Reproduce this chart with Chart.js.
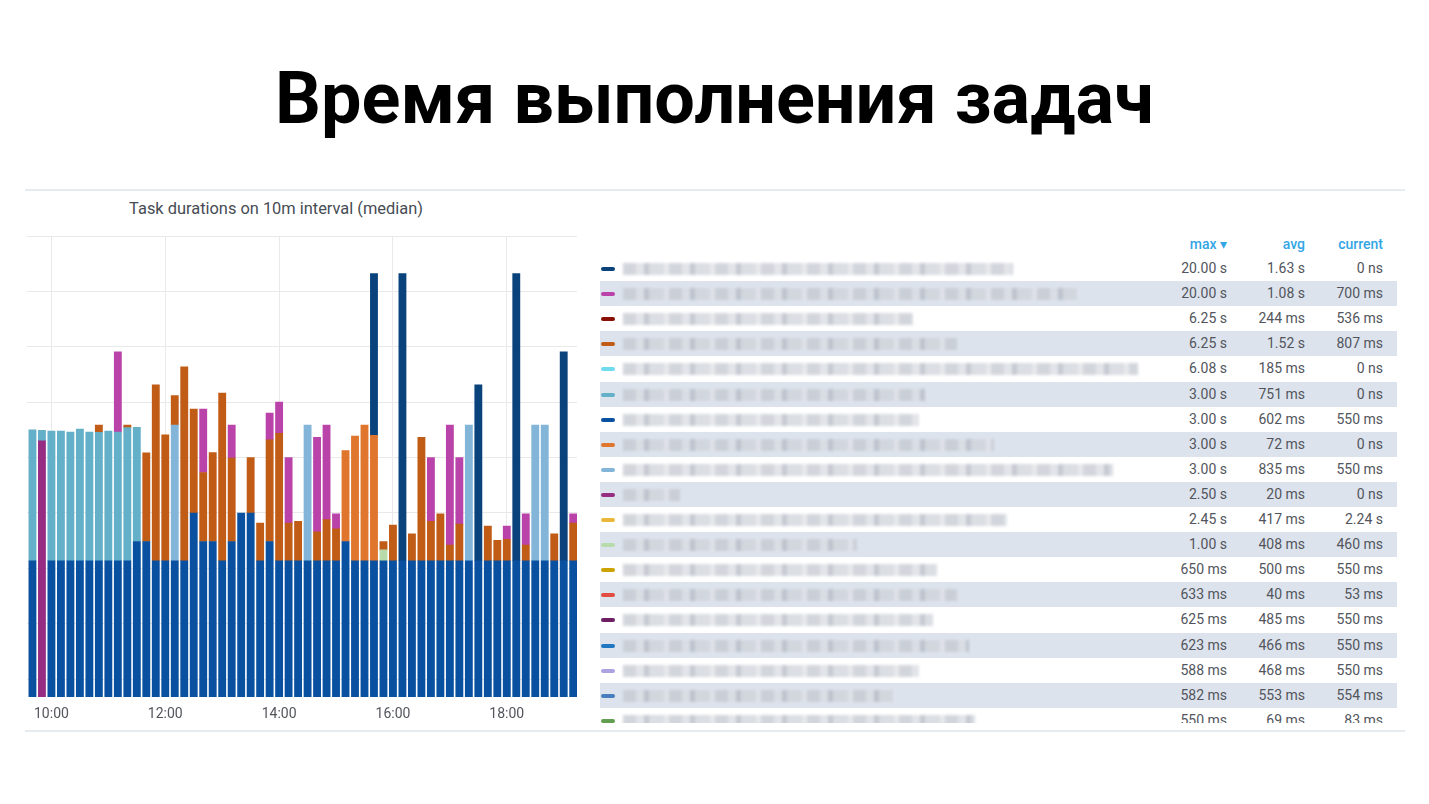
<!DOCTYPE html>
<html>
<head>
<meta charset="utf-8">
<title>Время выполнения задач</title>
<script src="https://cdn.jsdelivr.net/npm/chart.js@4.4.1/dist/chart.umd.min.js"></script>
<style>
  body { margin: 0; width: 1429px; height: 804px; background: #fff; font-family: Roboto, sans-serif; position: relative; overflow: hidden; }
  #title { position: absolute; left: 0; top: 54px; width: 1429px; text-align: center; font-size: 72px; line-height: 90px; font-weight: 700; color: #000; }
  .hline { position: absolute; left: 25px; width: 1380px; height: 2px; background: #e6ebf0; }
  #panelTitle { position: absolute; left: 25px; top: 199px; width: 502px; text-align: center; font-size: 16.4px; line-height: 20px; color: #464c54; }
  #chartBox { position: absolute; left: 25px; top: 236px; width: 552px; height: 497px; }
  #legend { position: absolute; left: 600px; top: 231px; width: 797px; height: 492px; overflow: hidden; font-size: 14px; color: #52555c; }
  .head, .row { position: relative; height: 25.1px; }
  .row.odd { background: #dde3ed; }
  .swatch { position: absolute; left: 1px; top: 11px; width: 14px; height: 4px; border-radius: 2px; }
  .name { position: absolute; left: 23px; top: 7px; height: 12px; opacity: 0.75; filter: blur(1.6px);
          background: repeating-linear-gradient(90deg, #c4c8d0 0 13px, #d9dce2 13px 21px, #b3b8c2 21px 26px, #cfd3da 26px 41px, #e0e2e6 41px 46px); }
  .val { position: absolute; top: 0; line-height: 25px; text-align: right; white-space: nowrap; }
  .c1 { right: 170px; } .c2 { right: 92px; } .c3 { right: 14px; }
  .head .val { color: #33a5e5; font-weight: 500; line-height: 26px; }
</style>
</head>
<body>
<div id="title">Время выполнения задач</div>
<div class="hline" style="top:189px"></div>
<div class="hline" style="top:730px"></div>
<div id="panelTitle">Task durations on 10m interval (median)</div>
<div id="chartBox"><canvas id="durationChart" width="552" height="497"></canvas></div>
<div id="legend"></div>
<script>
const _ = null;

// 10-minute buckets
const times = ["09:40","09:50","10:00","10:10","10:20","10:30","10:40","10:50","11:00","11:10",
  "11:20","11:30","11:40","11:50","12:00","12:10","12:20","12:30","12:40","12:50",
  "13:00","13:10","13:20","13:30","13:40","13:50","14:00","14:10","14:20","14:30",
  "14:40","14:50","15:00","15:10","15:20","15:30","15:40","15:50","16:00","16:10",
  "16:20","16:30","16:40","16:50","17:00","17:10","17:20","17:30","17:40","17:50",
  "18:00","18:10","18:20","18:30","18:40","18:50","19:00","19:10"];
const xTicks = ["10:00","12:00","14:00","16:00","18:00"];
const yTicks = [0.125, 0.25, 0.5, 1, 2, 4, 8, 16, 32];

// seconds, stacked from bottom to top
const baseBlue = [0.55,_,0.55,0.55,0.55,0.55,0.55,0.55,0.55,0.55,
  0.55,0.7,0.7,0.55,0.55,0.55,0.55,1.0,0.7,0.7,
  0.55,0.7,1.0,1.0,0.55,0.7,0.55,0.55,0.55,0.55,
  0.55,0.55,0.55,0.7,0.55,0.55,0.55,0.55,0.55,0.55,
  0.55,0.55,0.55,0.55,0.55,0.55,0.55,0.55,0.55,0.55,
  0.55,0.55,0.55,0.55,0.55,0.55,0.55,0.55];
const purple = [_,2.47,_,_,_,_,_,_,_,_,
  _,_,_,_,_,_,_,_,_,_,
  _,_,_,_,_,_,_,_,_,_,
  _,_,_,_,_,_,_,_,_,_,
  _,_,_,_,_,_,_,_,_,_,
  _,_,_,_,_,_,_,_];
const green = [_,_,_,_,_,_,_,_,_,_,
  _,_,_,_,_,_,_,_,_,_,
  _,_,_,_,_,_,_,_,_,_,
  _,_,_,_,_,_,_,0.08,_,_,
  _,_,_,_,_,_,_,_,_,_,
  _,_,_,_,_,_,_,_];
const teal = [2.28,0.34,2.24,2.24,2.2,2.31,2.2,2.19,2.24,2.2,
  2.36,2.22,_,_,_,_,_,_,_,_,
  _,_,_,_,_,_,_,_,_,_,
  _,_,_,_,_,_,_,_,_,_,
  _,_,_,_,_,_,_,_,_,_,
  _,_,_,_,_,_,_,_];
const lightBlue = [_,_,_,_,_,_,_,_,_,_,
  _,_,_,_,_,2.45,_,_,_,_,
  _,_,_,_,_,_,_,_,_,2.45,
  _,_,_,_,_,_,_,_,_,_,
  _,_,_,_,_,_,2.45,_,_,_,
  _,_,_,2.45,2.45,_,_,_];
const orange = [_,_,_,_,_,_,_,0.26,_,_,
  0.09,_,1.42,4.42,2.11,1.34,5.68,2.67,0.96,1.43,
  3.93,1.29,_,1.0,0.33,1.8,2.16,0.33,0.35,_,
  0.24,0.37,0.27,_,_,_,_,0.07,0.31,_,
  0.22,2.03,0.35,0.44,0.12,0.32,_,_,0.3,0.16,
  0.17,_,0.12,_,_,0.22,_,0.33];
const orangeLight = [_,_,_,_,_,_,_,_,_,_,
  _,_,_,_,_,_,_,_,_,_,
  _,_,_,_,_,_,_,_,_,_,
  _,_,_,1.48,2.07,2.45,2.09,_,_,_,
  _,_,_,_,_,_,_,_,_,_,
  _,_,_,_,_,_,_,_];
const magenta = [_,_,_,_,_,_,_,_,_,4.75,
  _,_,_,_,_,_,_,_,2.01,_,
  _,1.01,_,_,_,0.99,1.29,1.12,_,_,
  1.79,2.08,0.17,_,_,_,_,_,_,_,
  _,_,1.1,_,2.33,1.13,_,_,_,_,
  0.13,_,0.32,_,_,_,_,0.11];
const navy = [_,_,_,_,_,_,_,_,_,_,
  _,_,_,_,_,_,_,_,_,_,
  _,_,_,_,_,_,_,_,_,_,
  _,_,_,_,_,_,17.36,_,_,19.45,
  _,_,_,_,_,_,_,4.42,_,_,
  _,19.45,_,_,_,_,6.95,_];

// legend table
const legendColors = ["#0A437C","#BA43A9","#890F02","#C15C17","#70DBED","#64B0C8","#0A50A1","#E0752D","#82B5D8","#962D82",
  "#EAB839","#B7DBAB","#CCA300","#E24D42","#6D1F62","#1F78C1","#AEA2E0","#447EBC","#629E51"];
const legendMax = ["20.00 s","20.00 s","6.25 s","6.25 s","6.08 s","3.00 s","3.00 s","3.00 s","3.00 s","2.50 s",
  "2.45 s","1.00 s","650 ms","633 ms","625 ms","623 ms","588 ms","582 ms","550 ms"];
const legendAvg = ["1.63 s","1.08 s","244 ms","1.52 s","185 ms","751 ms","602 ms","72 ms","835 ms","20 ms",
  "417 ms","408 ms","500 ms","40 ms","485 ms","466 ms","468 ms","553 ms","69 ms"];
const legendCurrent = ["0 ns","700 ms","536 ms","807 ms","0 ns","0 ns","550 ms","0 ns","550 ms","0 ns",
  "2.24 s","460 ms","550 ms","53 ms","550 ms","550 ms","550 ms","554 ms","83 ms"];
// width of the (blurred) series names
const nameWidths = [390,454,290,334,515,302,296,371,490,57,384,234,314,334,310,346,296,270,352];

function toMinutes(t) {
  const p = t.split(':');
  return +p[0] * 60 + +p[1];
}
function fmtTime(m) {
  const h = Math.floor(m / 60), mm = m % 60;
  return String(h).padStart(2, '0') + ':' + String(mm).padStart(2, '0');
}

Chart.defaults.font.family = 'Roboto';

function series(data, color) {
  return { data: data, backgroundColor: color, borderWidth: 0, barThickness: 7.2 };
}

const gridColor = '#e9e9e9';

new Chart(document.getElementById('durationChart'), {
  type: 'bar',
  data: {
    labels: times.map(toMinutes),
    datasets: [
      series(baseBlue, '#0A50A1'),
      series(purple, '#962D82'),
      series(green, '#B7DBAB'),
      series(teal, '#64B0C8'),
      series(lightBlue, '#82B5D8'),
      series(orange, '#C15C17'),
      series(orangeLight, '#E0752D'),
      series(magenta, '#BA43A9'),
      series(navy, '#0A437C')
    ]
  },
  options: {
    responsive: false,
    animation: false,
    layout: { padding: 0 },
    plugins: { legend: { display: false }, tooltip: { enabled: false } },
    scales: {
      x: {
        type: 'linear',
        stacked: true,
        offset: false,
        min: 574,
        max: 1154,
        border: { display: false },
        grid: { color: gridColor, drawTicks: false, offset: false },
        ticks: { color: '#52555c', font: { size: 14 }, padding: 9, maxRotation: 0, callback: (v) => fmtTime(v) },
        afterBuildTicks: (s) => { s.ticks = xTicks.map(t => ({ value: toMinutes(t) })); },
        afterFit: (s) => { s.height = 36; }
      },
      y: {
        type: 'logarithmic',
        stacked: true,
        min: 0.1,
        max: 32,
        border: { display: false },
        grid: { color: gridColor, drawTicks: false },
        ticks: { display: false },
        afterBuildTicks: (s) => { s.ticks = yTicks.map(v => ({ value: v })); },
        afterFit: (s) => { s.width = 0; }
      }
    }
  }
});

// legend rows
const legend = document.getElementById('legend');
let html = '<div class="head"><span class="val c1">max \u25BE</span><span class="val c2">avg</span><span class="val c3">current</span></div>';
for (let i = 0; i < legendMax.length; i++) {
  html += '<div class="row' + (i % 2 === 1 ? ' odd' : '') + '">' +
    '<span class="swatch" style="background:' + legendColors[i] + '"></span>' +
    '<span class="name" style="width:' + nameWidths[i] + 'px"></span>' +
    '<span class="val c1">' + legendMax[i] + '</span>' +
    '<span class="val c2">' + legendAvg[i] + '</span>' +
    '<span class="val c3">' + legendCurrent[i] + '</span></div>';
}
legend.innerHTML = html;
</script>
</body>
</html>
